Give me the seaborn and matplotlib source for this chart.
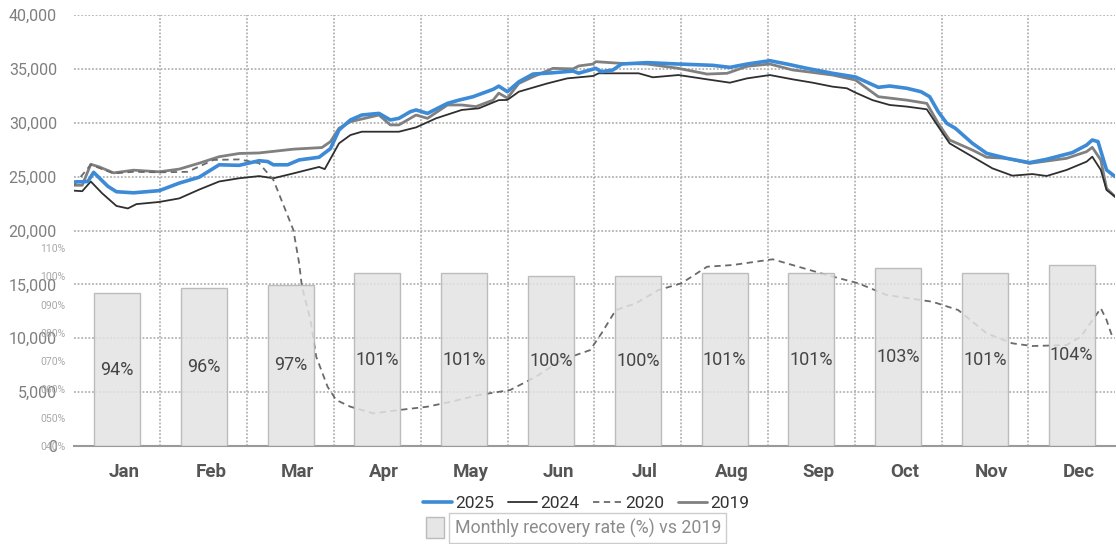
import numpy as np
import matplotlib.pyplot as plt
from matplotlib.lines import Line2D
from matplotlib.patches import Patch
from matplotlib.ticker import FuncFormatter
import seaborn as sns

sns.set_style('white')
plt.rcParams['font.family'] = ['Roboto', 'DejaVu Sans']

months = ['Jan', 'Feb', 'Mar', 'Apr', 'May', 'Jun',
          'Jul', 'Aug', 'Sep', 'Oct', 'Nov', 'Dec']
recovery = [94, 96, 97, 101, 101, 100, 100, 101, 101, 103, 101, 104]

# daily series, sampled by day of year
days_2025 = [0, 5, 7, 12, 15, 21, 30, 37, 44, 51, 58, 65, 68, 70, 75, 79, 86, 90,
             93, 97, 101, 107, 111, 114, 118, 120, 124, 131, 135, 140, 147, 149,
             152, 156, 161, 168, 175, 177, 183, 185, 189, 192, 201, 212, 224, 230,
             236, 244, 250, 257, 266, 274, 282, 286, 292, 297, 300, 303, 306, 309,
             315, 320, 327, 335, 341, 350, 355, 357, 359, 362, 365]
vals_2025 = [24500, 24550, 25400, 24100, 23600, 23500, 23700, 24400, 24950, 26100,
             26050, 26480, 26400, 26100, 26100, 26550, 26800, 27600, 29330, 30260,
             30720, 30870, 30260, 30410, 31030, 31190, 30870, 31800, 32100, 32420,
             33100, 33400, 32880, 33800, 34520, 34640, 34800, 34600, 35050, 34740,
             34900, 35450, 35580, 35450, 35330, 35140, 35450, 35760, 35450, 35050,
             34590, 34250, 33290, 33410, 33200, 32880, 32420, 31030, 29950, 29490,
             28090, 27160, 26700, 26300, 26610, 27230, 27930, 28400, 28250, 25620,
             25000]

days_2024 = [0, 3, 6, 10, 15, 19, 22, 30, 37, 44, 51, 58, 65, 70, 77, 86, 88, 93,
             97, 101, 114, 120, 127, 136, 142, 149, 152, 156, 166, 173, 182, 184,
             198, 203, 212, 222, 230, 236, 244, 252, 259, 266, 271, 274, 280, 286,
             292, 299, 303, 307, 315, 322, 329, 336, 341, 348, 355, 357, 360, 362,
             365]
vals_2024 = [23700, 23650, 24550, 23450, 22280, 22050, 22450, 22650, 22980, 23800,
             24550, 24850, 25050, 24850, 25300, 25900, 25700, 28090, 28860, 29170,
             29170, 29570, 30410, 31190, 31340, 32100, 32120, 32880, 33650, 34120,
             34340, 34590, 34590, 34220, 34430, 34030, 33720, 34120, 34430, 34030,
             33720, 33350, 33200, 32800, 32100, 31650, 31500, 31250, 29650, 28090,
             26850, 25770, 25090, 25240, 25060, 25620, 26390, 26850, 25620, 23760,
             23140]

days_2020 = [0, 6, 14, 21, 30, 40, 49, 58, 65, 70, 77, 79, 80, 83, 85, 89, 92, 97,
             105, 114, 124, 132, 142, 153, 162, 171, 181, 185, 190, 197, 205, 213,
             222, 231, 245, 254, 264, 275, 285, 301, 310, 320, 329, 336, 348, 353,
             360, 362, 364]
vals_2020 = [24200, 26100, 25300, 25450, 25400, 25450, 26550, 26600, 26250, 24700,
             20050, 17000, 14800, 11700, 8300, 5500, 4270, 3650, 3030, 3340, 3650,
             4100, 4730, 5200, 6430, 7980, 8900, 10460, 12620, 13240, 14480, 15100,
             16640, 16800, 17330, 16640, 15870, 15100, 14010, 13390, 12620, 10460,
             9530, 9280, 9370, 10150, 12780, 11700, 10150]

days_2019 = [0, 3, 6, 9, 14, 21, 30, 37, 44, 51, 58, 65, 77, 87, 90, 93, 97, 107,
             111, 114, 120, 124, 131, 136, 141, 147, 149, 152, 156, 161, 168, 175,
             177, 182, 183, 192, 201, 212, 222, 229, 236, 244, 252, 257, 266, 274,
             282, 292, 299, 303, 307, 315, 320, 327, 335, 348, 355, 357, 360, 362,
             365]
vals_2019 = [24200, 24200, 26150, 25900, 25350, 25600, 25450, 25700, 26250, 26850,
             27150, 27200, 27550, 27700, 28250, 29490, 30100, 30720, 29800, 29800,
             30720, 30410, 31650, 31650, 31500, 32100, 32750, 32290, 33650, 34270,
             35050, 35000, 35270, 35450, 35670, 35510, 35450, 35050, 34520, 34590,
             35240, 35450, 34900, 34740, 34430, 33970, 32420, 32100, 31800, 29950,
             28400, 27470, 26800, 26700, 26230, 26700, 27320, 27720, 26540, 23910,
             23140]


def day_pos(days):
    # map day of year onto the month category positions
    return -0.5 + 12 * np.asarray(days) / 365


fig = plt.figure(figsize=(11.16, 5.44), dpi=100)
rect = [0.066, 0.1801, 0.9332, 0.7923]
ax = fig.add_axes(rect)
ax2 = fig.add_axes(rect, label='bars')
ax2.patch.set_visible(False)

grid_kw = dict(color='#b3b3b3', linestyle=(0, (1, 1)), linewidth=1.3)

series = [
    ('2019', days_2019, vals_2019, dict(color='#808080', linewidth=2.0)),
    ('2024', days_2024, vals_2024, dict(color='#2f2f2f', linewidth=1.3)),
    ('2020', days_2020, vals_2020, dict(color='#6a6a6a', linewidth=1.3, linestyle=(0, (3.5, 2.5)))),
    ('2025', days_2025, vals_2025, dict(color='#3d8ad6', linewidth=2.6)),
]
for name, d, v, kw in series:
    sns.lineplot(x=day_pos(d), y=v, ax=ax, **kw)

ax.set_xlim(-0.5, 11.5)
ax.set_ylim(0, 40000)
ax.set_yticks(np.arange(0, 40001, 5000))
ax.yaxis.set_major_formatter(FuncFormatter(lambda v, p: f'{v:,.0f}'))
ax.tick_params(axis='y', length=0, pad=12, labelsize=11.5, labelcolor='#7f7f7f')
ax.set_xticks(np.arange(12) + 0.08)
ax.set_xticklabels(months, fontsize=13.5, fontweight='bold', color='#555555')
ax.tick_params(axis='x', length=0, pad=12)
ax.set_xticks(np.arange(0.5, 11, 1), minor=True)
ax.tick_params(axis='x', which='minor', length=0)
ax.set_axisbelow(True)
ax.yaxis.grid(True, **grid_kw)
ax.xaxis.grid(True, which='minor', **grid_kw)
ax.xaxis.grid(False, which='major')
for s in ['top', 'right', 'left']:
    ax.spines[s].set_visible(False)
ax.spines['bottom'].set_color('#9a9a9a')
ax.spines['bottom'].set_linewidth(1.5)

# monthly recovery bars on their own percent scale
sns.barplot(x=months, y=recovery, ax=ax2, color='#e3e3e3', saturation=1,
            edgecolor='#b3b3b3', linewidth=1, width=0.53, alpha=0.85)
for i, v in enumerate(recovery):
    ax2.text(i, (40 + v) / 2, f'{v}%', ha='center', va='center',
             fontsize=13, color='#454545')
ax2.set_xlim(-0.5, 11.5)
ax2.set_ylim(40, 192.3)
ax2.set_yticks(np.arange(40, 111, 10))
ax2.set_yticklabels([f'{t:03d}%' for t in range(40, 111, 10)])
ax2.tick_params(axis='y', length=0, pad=6, labelsize=7.5, labelcolor='#a8a8a8')
ax2.tick_params(axis='x', length=0, labelbottom=False)
ax2.set_xlabel('')
ax2.set_ylabel('')
ax2.grid(False)
for s in ax2.spines.values():
    s.set_visible(False)

line_handles = [Line2D([], [], **kw) for _, _, _, kw in
                [series[3], series[1], series[2], series[0]]]
fig.legend(line_handles, ['2025', '2024', '2020', '2019'], loc='center',
           bbox_to_anchor=(0.525, 0.075), ncol=4, frameon=False, fontsize=12.5,
           handlelength=1.7, handletextpad=0.15, columnspacing=0.8,
           labelcolor='#333333')
leg2 = fig.legend([Patch(facecolor='#e6e6e6', edgecolor='#bbbbbb')],
                  ['Monthly recovery rate (%) vs 2019'], loc='center',
                  bbox_to_anchor=(0.514, 0.03), frameon=False, fontsize=12.8,
                  handlelength=1.0, handleheight=1.4, handletextpad=0.6,
                  labelcolor='#8c8c8c')
for t in leg2.get_texts():
    t.set_bbox(dict(boxstyle='square,pad=0.3', facecolor='white',
                    edgecolor='#cccccc', linewidth=1))

plt.savefig('out.png', dpi=100)
